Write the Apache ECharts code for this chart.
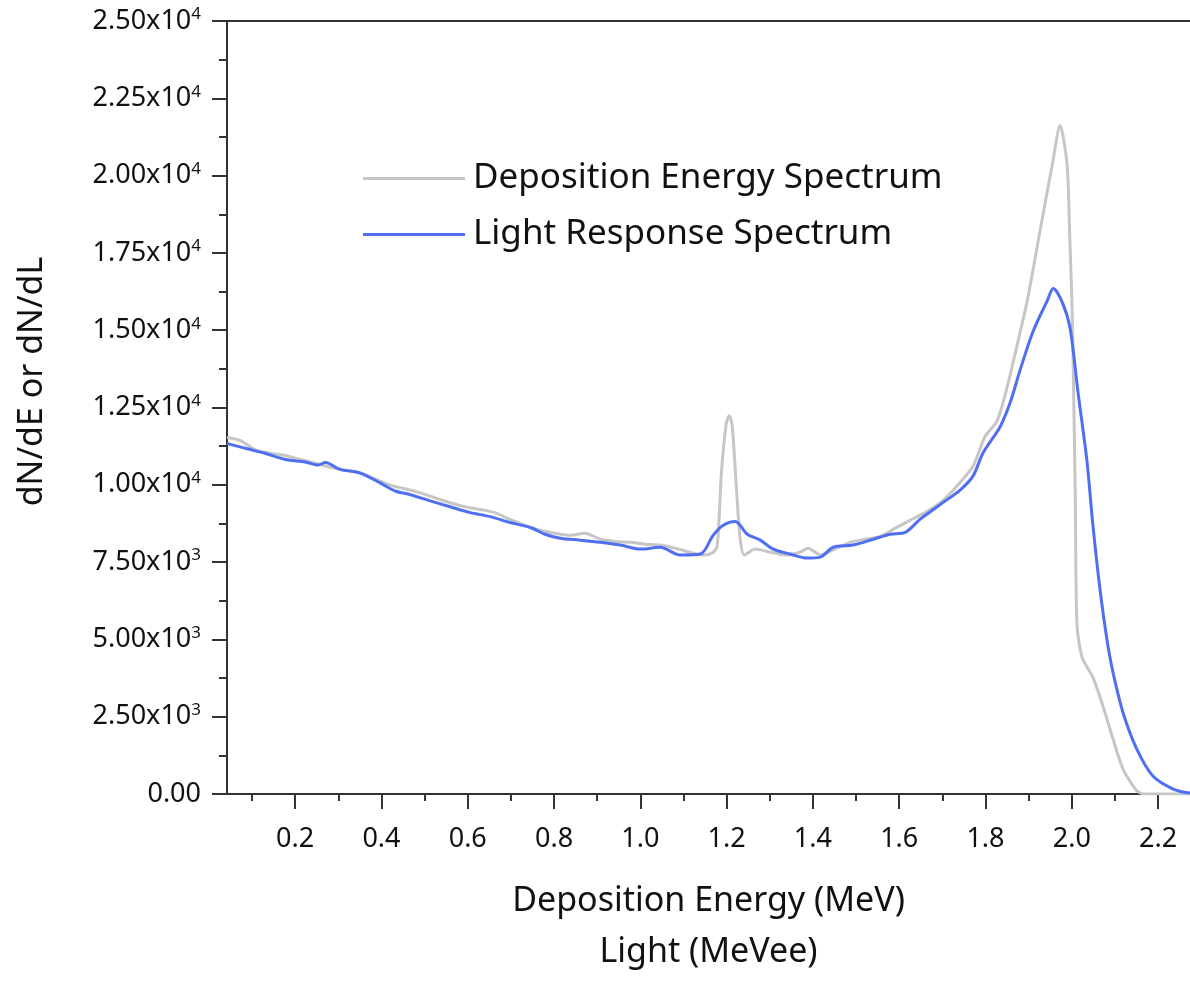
<!DOCTYPE html>
<html>
<head>
<meta charset="utf-8">
<title>Deposition Energy and Light Response Spectra</title>
<script src="https://cdn.jsdelivr.net/npm/echarts@6/dist/echarts.min.js"></script>
<style>
  html, body { margin: 0; padding: 0; background: #fff; overflow: hidden; }
  #chart { width: 1190px; height: 983px; }
</style>
</head>
<body>
<div id="chart"></div>
<script>
// Deposition energy spectrum (MeV, dN/dE)
const depEnergy = [0.042, 0.073, 0.107, 0.142, 0.177, 0.212, 0.246, 0.281, 0.316, 0.351,
  0.385, 0.420, 0.455, 0.490, 0.524, 0.559, 0.594, 0.629, 0.663, 0.698,
  0.733, 0.768, 0.803, 0.837, 0.872, 0.907, 0.942, 0.976, 1.011, 1.046,
  1.081, 1.115, 1.146, 1.166, 1.178, 1.188, 1.199, 1.206, 1.213, 1.222,
  1.231, 1.241, 1.266, 1.301, 1.336, 1.370, 1.389, 1.417, 1.451, 1.486,
  1.521, 1.556, 1.590, 1.625, 1.660, 1.695, 1.730, 1.771, 1.799, 1.827,
  1.850, 1.874, 1.897, 1.927, 1.955, 1.973, 1.989, 1.996, 2.001, 2.008,
  2.012, 2.024, 2.049, 2.073, 2.096, 2.119, 2.151, 2.170, 2.274];
const depCounts = [11530, 11430, 11140, 11020, 10950, 10820, 10700, 10570, 10470, 10380,
  10190, 9990, 9870, 9740, 9580, 9420, 9290, 9200, 9100, 8880,
  8690, 8530, 8430, 8370, 8430, 8240, 8170, 8140, 8080, 8050,
  7950, 7820, 7730, 7790, 8000, 10400, 11970, 12230, 11910, 10060,
  8300, 7730, 7920, 7820, 7730, 7820, 7950, 7730, 7920, 8140,
  8240, 8330, 8590, 8850, 9100, 9420, 9900, 10600, 11560, 12070,
  13150, 14560, 15970, 18260, 20370, 21620, 20370, 17720, 15580, 9740,
  5490, 4410, 3770, 2810, 1760, 800, 100, 0, 0];

// Light response spectrum (MeVee, dN/dL)
const lightEnergy = [0.042, 0.084, 0.130, 0.177, 0.223, 0.253, 0.270, 0.304, 0.351, 0.397,
  0.432, 0.467, 0.513, 0.559, 0.606, 0.652, 0.698, 0.745, 0.779, 0.814,
  0.860, 0.907, 0.953, 1.000, 1.046, 1.092, 1.139, 1.169, 1.192, 1.220,
  1.248, 1.278, 1.308, 1.347, 1.387, 1.417, 1.447, 1.493, 1.540, 1.579,
  1.614, 1.648, 1.695, 1.741, 1.771, 1.794, 1.834, 1.857, 1.880, 1.910,
  1.943, 1.957, 1.978, 1.996, 2.015, 2.035, 2.049, 2.066, 2.082, 2.096,
  2.119, 2.151, 2.188, 2.235, 2.274];
const lightCounts = [11340, 11180, 11020, 10820, 10740, 10640, 10720, 10500, 10380, 10060,
  9800, 9680, 9480, 9290, 9100, 8970, 8780, 8620, 8400, 8270,
  8210, 8140, 8050, 7920, 7980, 7730, 7760, 8370, 8690, 8810,
  8400, 8210, 7920, 7760, 7630, 7660, 7980, 8050, 8240, 8400,
  8460, 8880, 9360, 9830, 10280, 11020, 11880, 12650, 13700, 14950,
  15950, 16350, 15900, 15070, 12930, 10790, 8690, 6550, 4950, 3900,
  2620, 1440, 580, 160, 30];

const xMajorTicks = [0.2, 0.4, 0.6, 0.8, 1.0, 1.2, 1.4, 1.6, 1.8, 2.0, 2.2];
const xMinorTicks = [0.1, 0.3, 0.5, 0.7, 0.9, 1.1, 1.3, 1.5, 1.7, 1.9, 2.1];

const X_MIN = 0.042, X_MAX = 2.274;
const FONT = '"Noto Sans", "Open Sans", sans-serif';
const AXIS_COLOR = '#333';
const GRAY = '#c6c6c6';
const BLUE = '#4f6ff2';

function pairs(xs, ys) {
    return xs.map((x, i) => [x, ys[i]]);
}

// 2.50x10^4 style labels, superscript via rich text
function yLabel(value) {
    if (value === 0) return '{m|0.00}';
    const exp = Math.floor(Math.log10(value));
    const mant = (value / Math.pow(10, exp)).toFixed(2);
    return '{m|' + mant + 'x10}{s|' + exp + '}';
}

const chart = echarts.init(document.getElementById('chart'));

const option = {
    backgroundColor: '#fff',
    animation: false,
    textStyle: { fontFamily: FONT },
    grid: { left: 227, right: 0, top: 21, bottom: 178, containLabel: false },
    legend: {
        orient: 'vertical',
        left: 358,
        top: 156,
        icon: 'rect',
        itemWidth: 102,
        itemHeight: 3,
        itemGap: 21,
        textStyle: { fontFamily: FONT, fontSize: 35, color: '#111', padding: [0, 0, 0, 3] },
        data: ['Deposition Energy Spectrum', 'Light Response Spectrum']
    },
    xAxis: [
        {
            type: 'value',
            min: X_MIN,
            max: X_MAX,
            position: 'bottom',
            name: 'Deposition Energy (MeV)\nLight (MeVee)',
            nameLocation: 'middle',
            nameGap: 82,
            nameTextStyle: { fontFamily: FONT, fontSize: 34, lineHeight: 51, color: '#111' },
            axisLine: { show: true, lineStyle: { color: AXIS_COLOR, width: 2 } },
            axisTick: { show: true, length: 15, customValues: xMajorTicks,
                lineStyle: { color: AXIS_COLOR, width: 2 } },
            axisLabel: { customValues: xMajorTicks, margin: 32, fontSize: 27, color: '#111',
                fontFamily: FONT, formatter: v => v.toFixed(1) },
            splitLine: { show: false }
        },
        {
            // minor ticks only
            type: 'value',
            min: X_MIN,
            max: X_MAX,
            position: 'bottom',
            axisLine: { show: false },
            axisTick: { show: true, length: 7, customValues: xMinorTicks,
                lineStyle: { color: AXIS_COLOR, width: 2 } },
            axisLabel: { show: false },
            splitLine: { show: false }
        },
        {
            // top frame line
            type: 'value',
            min: X_MIN,
            max: X_MAX,
            position: 'top',
            axisLine: { show: true, lineStyle: { color: AXIS_COLOR, width: 2 } },
            axisTick: { show: false },
            axisLabel: { show: false },
            splitLine: { show: false }
        }
    ],
    yAxis: {
        type: 'value',
        min: 0,
        max: 25000,
        interval: 2500,
        name: 'dN/dE or dN/dL',
        nameLocation: 'middle',
        nameGap: 178,
        nameTextStyle: { fontFamily: FONT, fontSize: 34, color: '#111', padding: [0, 0, 0, 52] },
        axisLine: { show: true, lineStyle: { color: AXIS_COLOR, width: 2 } },
        axisTick: { show: true, length: 15, lineStyle: { color: AXIS_COLOR, width: 2 } },
        minorTick: { show: true, splitNumber: 2, length: 8, lineStyle: { color: AXIS_COLOR, width: 2 } },
        axisLabel: {
            margin: 26,
            formatter: yLabel,
            rich: {
                m: { fontFamily: FONT, fontSize: 27, color: '#111', lineHeight: 30 },
                s: { fontFamily: FONT, fontSize: 17, color: '#111', verticalAlign: 'top', lineHeight: 17 }
            }
        },
        splitLine: { show: false }
    },
    series: [
        {
            name: 'Deposition Energy Spectrum',
            type: 'line',
            xAxisIndex: 0,
            data: pairs(depEnergy, depCounts),
            showSymbol: false,
            symbol: 'none',
            smooth: 0.25,
            lineStyle: { color: GRAY, width: 3 },
            itemStyle: { color: GRAY }
        },
        {
            name: 'Light Response Spectrum',
            type: 'line',
            xAxisIndex: 0,
            data: pairs(lightEnergy, lightCounts),
            showSymbol: false,
            symbol: 'none',
            smooth: 0.3,
            lineStyle: { color: BLUE, width: 3 },
            itemStyle: { color: BLUE }
        }
    ]
};

chart.setOption(option);
</script>
</body>
</html>
